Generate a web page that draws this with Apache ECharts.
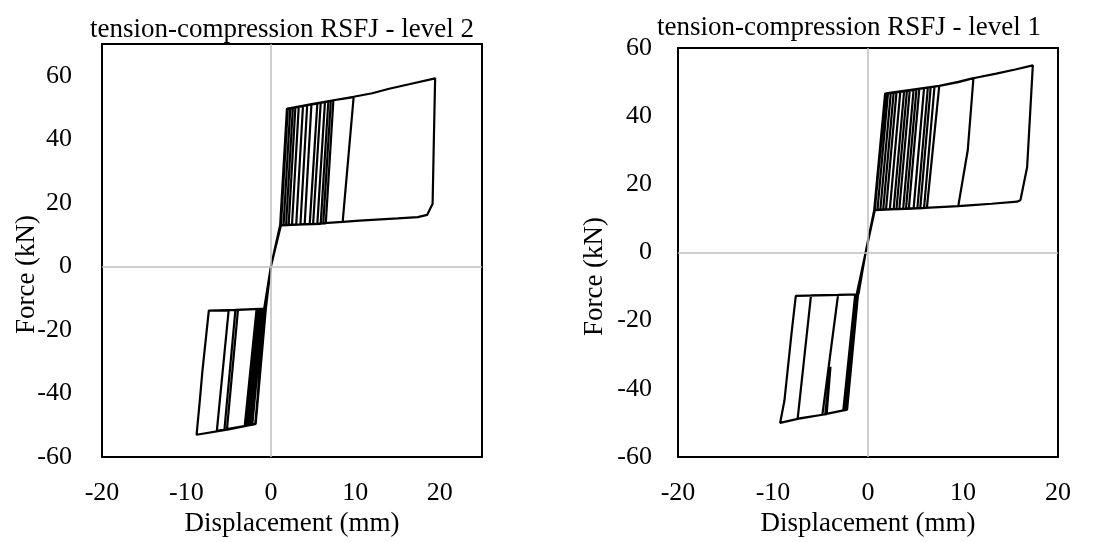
<!DOCTYPE html>
<html>
<head>
<meta charset="utf-8">
<script src="https://cdn.jsdelivr.net/npm/echarts@6/dist/echarts.min.js"></script>
<style>
  html, body { margin: 0; padding: 0; background: #fff; }
  #chart { width: 1110px; height: 542px; }
</style>
</head>
<body>
<div id="chart"></div>
<script>
// titles and tick values
const titles = ['tension-compression RSFJ - level 2', 'tension-compression RSFJ - level 1'];
const xTicksLeft = [-20, -10, 0, 10, 20];
const xTicksRight = [-20, -10, 0, 10, 20];
const yTicks = [-60, -40, -20, 0, 20, 40, 60];

// level 2 : loops (displacement mm, force kN)
const level2Pos = [
  [[0,0],[1.1,13.0],[1.9,49.4],[2.3,49.8],[1.5,13.0],[1.1,12.9],[0,0]],
  [[0,0],[1.15,13.1],[1.95,49.5],[2.6,49.9],[1.8,13.0],[1.1,12.8],[0,0]],
  [[0,0],[1.1,12.9],[1.9,49.6],[2.9,50.1],[2.1,13.0],[1.15,12.9],[0,0]],
  [[0,0],[1.2,13.2],[2.0,49.5],[3.3,50.3],[2.5,13.1],[1.1,12.9],[0,0]],
  [[0,0],[1.1,13.0],[1.9,49.5],[3.8,50.5],[3.0,13.1],[1.2,13.0],[0,0]],
  [[0,0],[1.15,13.0],[2.0,49.6],[4.3,50.8],[3.5,13.2],[1.1,12.9],[0,0]],
  [[0,0],[1.1,12.9],[1.9,49.5],[4.8,51.0],[4.0,13.2],[1.15,12.9],[0,0]],
  [[0,0],[1.2,13.1],[2.0,49.6],[5.5,51.3],[4.6,13.3],[1.1,12.9],[0,0]],
  [[0,0],[1.1,13.0],[1.9,49.6],[5.9,51.5],[5.0,13.3],[1.2,13.0],[0,0]],
  [[0,0],[1.15,13.1],[1.95,49.7],[6.4,51.7],[5.5,13.4],[1.1,12.9],[0,0]],
  [[0,0],[1.1,13.0],[1.9,49.6],[6.8,51.9],[5.9,13.4],[1.15,13.0],[0,0]],
  [[0,0],[1.2,13.1],[2.0,49.7],[7.1,52.0],[6.2,13.5],[1.1,12.9],[0,0]],
  [[0,0],[1.1,13.0],[1.9,49.6],[7.4,52.2],[6.5,13.5],[1.2,13.0],[0,0]],
  [[0,0],[1.15,13.1],[2.0,49.7],[5.0,51.2],[7.4,52.3],[9.8,53.3],[8.5,14.0],[5.0,13.4],[1.1,13.0],[0,0]],
  [[0,0],[1.1,13.0],[1.9,49.6],[5.0,51.2],[9.8,53.4],[12.0,54.5],[14.0,55.9],[16.5,57.4],[19.45,59.2],[19.3,40.0],[19.15,19.7],[18.5,16.2],[17.4,15.5],[15.0,15.1],[13.0,14.8],[10.5,14.4],[8.5,14.0],[5.0,13.4],[1.1,13.0],[0,0]]
];
const level2Neg = [
  [[-0.6,-13.4],[-1.8,-49.5],[-2.0,-49.7],[-0.8,-13.4],[-0.6,-13.3],[0,0]],
  [[-0.65,-13.5],[-1.85,-49.6],[-2.2,-49.8],[-0.9,-13.4],[-0.6,-13.3],[0,0]],
  [[-0.6,-13.4],[-1.8,-49.6],[-2.4,-49.9],[-1.1,-13.5],[-0.6,-13.3],[0,0]],
  [[-0.6,-13.3],[-1.85,-49.6],[-2.6,-50.0],[-1.2,-13.5],[-0.65,-13.3],[0,0]],
  [[-0.6,-13.4],[-1.8,-49.6],[-2.8,-50.1],[-1.4,-13.5],[-0.6,-13.3],[0,0]],
  [[-0.65,-13.4],[-1.85,-49.7],[-3.0,-50.2],[-1.6,-13.6],[-0.6,-13.4],[0,0]],
  [[-0.6,-13.4],[-1.8,-49.6],[-3.1,-50.3],[-1.7,-13.6],[-0.6,-13.3],[0,0]],
  [[-0.6,-13.4],[-1.8,-49.6],[-5.2,-51.2],[-3.9,-13.7],[-0.6,-13.3],[0,0]],
  [[-0.65,-13.4],[-1.85,-49.7],[-5.5,-51.4],[-4.2,-13.7],[-0.6,-13.3],[0,0]],
  [[-0.6,-13.4],[-1.8,-49.6],[-6.4,-51.8],[-5.0,-13.8],[-0.6,-13.3],[0,0]],
  [[-0.6,-13.4],[-1.8,-49.6],[-5.0,-51.3],[-8.8,-53.0],[-8.45,-43.2],[-8.65,-43.2],[-8.45,-43.0],[-8.1,-32.7],[-7.35,-13.9],[-4.0,-13.7],[-0.6,-13.3],[0,0]]
];

// level 1 : loops
const level1Pos = [
  [[-0.25,0],[0.7,12.5],[1.8,46.5],[2.1,46.6],[1.0,12.6],[0.7,12.5],[-0.25,0]],
  [[-0.25,0],[0.72,12.6],[1.85,46.6],[2.4,46.8],[1.3,12.6],[0.7,12.5],[-0.25,0]],
  [[-0.25,0],[0.68,12.4],[1.8,46.5],[2.7,46.9],[1.6,12.6],[0.7,12.5],[-0.25,0]],
  [[-0.25,0],[0.7,12.5],[1.9,46.7],[3.0,47.0],[1.9,12.7],[0.72,12.5],[-0.25,0]],
  [[-0.25,0],[0.7,12.6],[1.8,46.5],[3.4,47.2],[2.3,12.7],[0.7,12.5],[-0.25,0]],
  [[-0.25,0],[0.72,12.5],[1.85,46.6],[3.8,47.3],[2.7,12.7],[0.7,12.4],[-0.25,0]],
  [[-0.25,0],[0.7,12.5],[1.8,46.6],[4.1,47.4],[3.0,12.8],[0.7,12.5],[-0.25,0]],
  [[-0.25,0],[0.68,12.5],[1.9,46.7],[4.4,47.6],[3.3,12.8],[0.72,12.5],[-0.25,0]],
  [[-0.25,0],[0.7,12.6],[1.8,46.5],[4.8,47.7],[3.7,12.8],[0.7,12.5],[-0.25,0]],
  [[-0.25,0],[0.72,12.5],[1.85,46.6],[5.1,47.8],[4.0,12.9],[0.7,12.4],[-0.25,0]],
  [[-0.25,0],[0.7,12.5],[1.8,46.6],[5.4,48.0],[4.3,12.9],[0.7,12.5],[-0.25,0]],
  [[-0.25,0],[0.7,12.5],[1.9,46.7],[5.9,48.2],[4.8,12.9],[0.72,12.5],[-0.25,0]],
  [[-0.25,0],[0.68,12.4],[1.8,46.5],[6.3,48.4],[5.2,13.0],[0.7,12.5],[-0.25,0]],
  [[-0.25,0],[0.7,12.5],[1.85,46.6],[6.6,48.5],[5.5,13.0],[0.7,12.5],[-0.25,0]],
  [[-0.25,0],[0.72,12.6],[1.8,46.6],[7.0,48.7],[5.9,13.0],[0.7,12.5],[-0.25,0]],
  [[-0.25,0],[0.7,12.5],[1.9,46.7],[7.5,48.9],[6.2,13.1],[0.72,12.5],[-0.25,0]],
  [[-0.25,0],[0.7,12.5],[1.85,46.6],[4.5,47.6],[7.5,48.9],[9.5,50.1],[11.1,51.2],[10.5,30.0],[9.5,13.6],[6.0,13.1],[0.7,12.5],[-0.25,0]],
  [[-0.25,0],[0.65,12.4],[1.8,46.6],[4.5,47.6],[7.5,48.9],[9.5,50.0],[11.2,51.2],[13.5,52.5],[15.5,53.7],[17.35,54.9],[16.75,25.0],[16.05,15.4],[15.7,14.9],[13.0,14.3],[11.0,13.9],[9.5,13.6],[6.0,13.1],[0.7,12.5],[-0.25,0]]
];
const level1Neg = [
  [[-1.1,-12.3],[-2.2,-46.0],[-2.3,-46.1],[-1.1,-12.4],[-1.0,-12.2],[-0.25,0]],
  [[-1.1,-12.3],[-2.2,-46.0],[-2.25,-46.1],[-1.05,-12.3],[-1.0,-12.2],[-0.25,0]],
  [[-1.12,-12.4],[-2.22,-46.1],[-2.4,-46.2],[-1.2,-12.4],[-1.0,-12.2],[-0.25,0]],
  [[-1.1,-12.3],[-2.2,-46.0],[-2.3,-46.1],[-1.1,-12.4],[-1.0,-12.2],[-0.25,0]],
  [[-1.1,-12.3],[-2.2,-46.1],[-2.5,-46.2],[-1.25,-12.4],[-1.0,-12.2],[-0.25,0]],
  [[-1.12,-12.3],[-2.22,-46.0],[-2.35,-46.1],[-1.15,-12.4],[-1.0,-12.2],[-0.25,0]],
  [[-1.1,-12.3],[-2.2,-46.1],[-2.45,-46.2],[-1.2,-12.4],[-1.0,-12.2],[-0.25,0]],
  [[-1.1,-12.4],[-2.2,-46.1],[-2.6,-46.3],[-1.35,-12.4],[-1.0,-12.2],[-0.25,0]],
  [[-1.1,-12.3],[-2.2,-46.0],[-2.3,-46.1],[-1.1,-12.4],[-1.0,-12.2],[-0.25,0]],
  [[-1.12,-12.3],[-2.22,-46.1],[-2.4,-46.2],[-1.2,-12.4],[-1.0,-12.2],[-0.25,0]],
  [[-1.1,-12.3],[-2.2,-46.1],[-2.5,-46.2],[-1.3,-12.4],[-1.0,-12.2],[-0.25,0]],
  [[-1.1,-12.4],[-2.2,-46.0],[-2.35,-46.1],[-1.1,-12.4],[-1.0,-12.2],[-0.25,0]],
  [[-1.1,-12.3],[-2.2,-46.1],[-2.55,-46.3],[-1.3,-12.4],[-1.0,-12.2],[-0.25,0]],
  [[-1.12,-12.3],[-2.22,-46.1],[-2.45,-46.2],[-1.2,-12.4],[-1.0,-12.2],[-0.25,0]],
  [[-1.1,-12.3],[-2.2,-46.1],[-4.5,-47.4],[-3.95,-33.5],[-4.35,-47.4],[-4.8,-47.6],[-3.15,-12.4],[-1.1,-12.3],[-0.25,0]],
  [[-1.1,-12.3],[-2.2,-46.1],[-4.8,-47.6],[-7.4,-48.7],[-6.0,-12.6],[-3.0,-12.4],[-1.1,-12.3],[-0.25,0]],
  [[-1.1,-12.3],[-2.2,-46.1],[-4.8,-47.6],[-7.4,-48.8],[-9.25,-50.0],[-8.8,-43.5],[-8.05,-23.7],[-7.6,-12.7],[-4.0,-12.5],[-1.1,-12.3],[-0.25,0]]
];

// join loops in test order: push cycle, then pull cycle
function joinLoops(pos, neg) {
  const out = [];
  const n = Math.max(pos.length, neg.length);
  for (let i = 0; i < n; i++) {
    if (pos[i]) out.push(...pos[i]);
    if (neg[i]) out.push(...neg[i]);
  }
  return out;
}

const font = 'Liberation Serif';
const txt = { fontFamily: font, fontSize: 26, color: '#000' };
const nameTxt = { fontFamily: font, fontSize: 27, color: '#000' };

function xAxis(gridIndex, min, max, ticks) {
  return {
    type: 'value', gridIndex: gridIndex, min: min, max: max, interval: 10,
    name: 'Displacement (mm)', nameLocation: 'middle', nameGap: 53,
    nameMoveOverlap: false,
    nameTextStyle: nameTxt,
    axisLine: { show: false }, axisTick: { show: false }, splitLine: { show: false },
    axisLabel: Object.assign({ margin: 23, showMaxLabel: max === ticks[ticks.length - 1] }, txt)
  };
}
function yAxis(gridIndex, max, gap, margin) {
  return {
    type: 'value', gridIndex: gridIndex, min: -60, max: max, interval: 20,
    name: 'Force (kN)', nameLocation: 'middle', nameGap: gap,
    nameMoveOverlap: false,
    nameTextStyle: Object.assign({ padding: [0, 48, 0, 0] }, nameTxt),
    axisLine: { show: false }, axisTick: { show: false }, splitLine: { show: false },
    axisLabel: Object.assign({ margin: margin, showMaxLabel: max === yTicks[yTicks.length - 1] }, txt)
  };
}
function zeroLines(idx) {
  return {
    type: 'line', xAxisIndex: idx, yAxisIndex: idx, data: [], z: 1, silent: true,
    markLine: {
      silent: true, symbol: 'none', label: { show: false }, animation: false,
      lineStyle: { color: '#bfbfbf', width: 1.5, type: 'solid' },
      data: [{ xAxis: 0 }, { yAxis: 0 }]
    }
  };
}
function loopSeries(idx, data) {
  return {
    type: 'line', xAxisIndex: idx, yAxisIndex: idx, data: data, z: 3,
    showSymbol: false, symbol: 'none', silent: true,
    lineStyle: { color: '#000', width: 2.2 }
  };
}

const chart = echarts.init(document.getElementById('chart'));
chart.setOption({
  animation: false,
  backgroundColor: '#fff',
  title: [
    { text: titles[0], left: 277, top: 11, textAlign: 'center',
      textStyle: { fontFamily: font, fontSize: 27, fontWeight: 'normal', color: '#000' } },
    { text: titles[1], left: 844, top: 9, textAlign: 'center',
      textStyle: { fontFamily: font, fontSize: 27, fontWeight: 'normal', color: '#000' } }
  ],
  grid: [
    { left: 102, top: 44, width: 380, height: 413, show: true, borderColor: '#000', borderWidth: 2 },
    { left: 678, top: 48, width: 380, height: 409, show: true, borderColor: '#000', borderWidth: 2 }
  ],
  xAxis: [xAxis(0, -20, 25, xTicksLeft), xAxis(1, -20, 20, xTicksRight)],
  yAxis: [yAxis(0, 70, 62, 30), yAxis(1, 60, 70, 26)],
  series: [
    zeroLines(0), zeroLines(1),
    loopSeries(0, joinLoops(level2Pos, level2Neg)),
    loopSeries(1, joinLoops(level1Pos, level1Neg))
  ]
});
</script>
</body>
</html>
